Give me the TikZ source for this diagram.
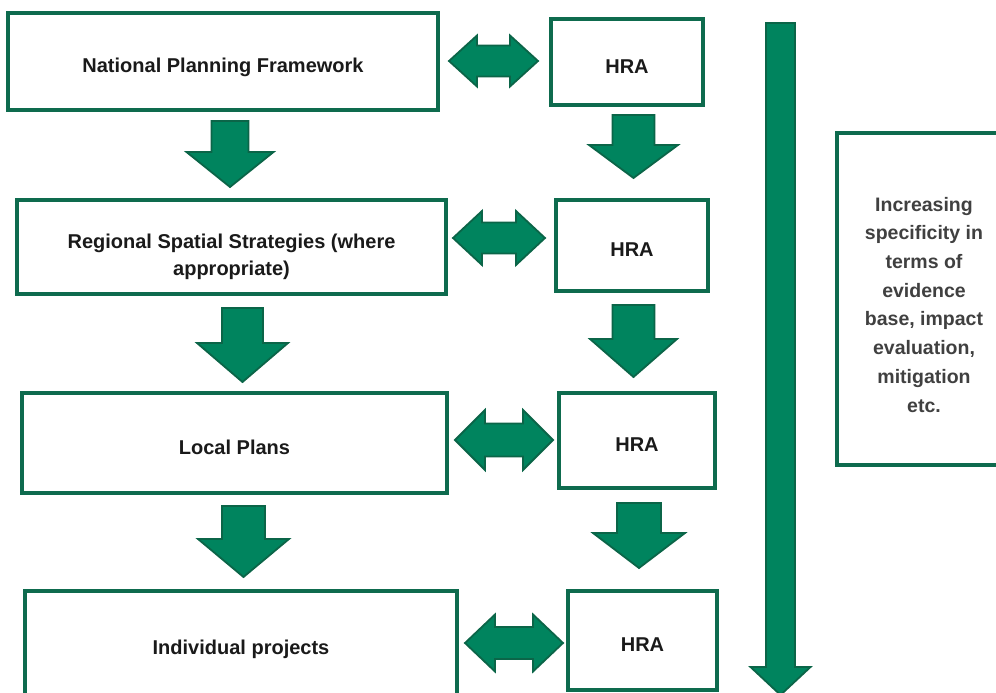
\documentclass[tikz,border=0pt]{standalone}
\usepackage{fontspec}
\setmainfont{Liberation Sans}
\definecolor{boxgreen}{HTML}{0E6B4E}
\definecolor{arrowfill}{HTML}{00845E}
\definecolor{arrowline}{HTML}{0B6548}
\definecolor{txt}{HTML}{1A1A1A}
\definecolor{sidetxt}{HTML}{404040}
\tikzset{
  box/.style={draw=boxgreen, line width=3.5pt, fill=white, inner sep=0pt,
    font=\bfseries\fontsize{20}{27}\selectfont, text=txt, align=center,
    text height=22.4pt, text depth=0pt},
  sidebox/.style={box, font=\bfseries\fontsize{19.5}{28.7}\selectfont, text=sidetxt,
    text height=226pt},
  blk/.style={fill=arrowfill, draw=arrowline, line width=1.8pt, line join=miter},
}
% down block arrow: cx, top, head base, tip, shaft width, head width
\newcommand\dnarr[6]{\draw[blk] ({#1-#5/2},#2) -- ({#1+#5/2},#2) -- ({#1+#5/2},#3) -- ({#1+#6/2},#3) -- (#1,#4) -- ({#1-#6/2},#3) -- ({#1-#5/2},#3) -- cycle;}
% double block arrow: x1, x2, cy, head length, head height, shaft height
\newcommand\lrarr[6]{\draw[blk] (#1,#3) -- ({#1+#4},{#3-#5/2}) -- ({#1+#4},{#3-#6/2}) -- ({#2-#4},{#3-#6/2}) -- ({#2-#4},{#3-#5/2}) -- (#2,#3) -- ({#2-#4},{#3+#5/2}) -- ({#2-#4},{#3+#6/2}) -- ({#1+#4},{#3+#6/2}) -- ({#1+#4},{#3+#5/2}) -- cycle;}
\begin{document}
\begin{tikzpicture}[x=1pt,y=-1pt]
\useasboundingbox (0,0) rectangle (996,693);
\clip (0,0) rectangle (996,693);
\fill[white] (0,0) rectangle (996,693);

% left column
\node[box, minimum width=430pt, minimum height=97pt] (npf) at (223,61.5) {National Planning Framework};
\node[box, minimum width=429pt, minimum height=94pt, text height=56pt] (rss) at (231.5,247) {Regional Spatial Strategies (where\\appropriate)};
\node[box, minimum width=425pt, minimum height=100pt] (lp) at (234.5,443) {Local Plans};
\node[box, minimum width=432pt, minimum height=104pt] (ip) at (241,643) {Individual projects};

% HRA column
\node[box, minimum width=152pt, minimum height=86pt] (hra1) at (627,62) {HRA};
\node[box, minimum width=152pt, minimum height=91pt] (hra2) at (632,245.5) {HRA};
\node[box, minimum width=156pt, minimum height=95pt] (hra3) at (637,440.5) {HRA};
\node[box, minimum width=149pt, minimum height=99pt] (hra4) at (642.5,640.5) {HRA};

% side box
\node[sidebox, minimum width=174pt, minimum height=332pt] (side) at (924,299)
  {Increasing\\specificity in\\terms of\\evidence\\base, impact\\evaluation,\\mitigation\\etc.};

% double arrows between columns
\lrarr{449}{538}{61}{28}{51}{31}
\lrarr{453}{545}{238}{29}{54}{31}
\lrarr{455}{553}{440}{30}{60}{33}
\lrarr{465}{563}{643}{30}{57}{32}

% down arrows, left column
\dnarr{230}{121}{152}{187}{37}{87}
\dnarr{242.5}{308}{343}{382}{41}{91}
\dnarr{243.5}{506}{539}{577}{43}{91}

% down arrows, HRA column
\dnarr{633.5}{115}{145}{178}{42}{89}
\dnarr{633.5}{305}{339}{377}{42}{87}
\dnarr{639}{503}{533}{568}{44}{92}

% long arrow
\dnarr{780.5}{23}{667}{695}{29}{60}
\end{tikzpicture}
\end{document}
